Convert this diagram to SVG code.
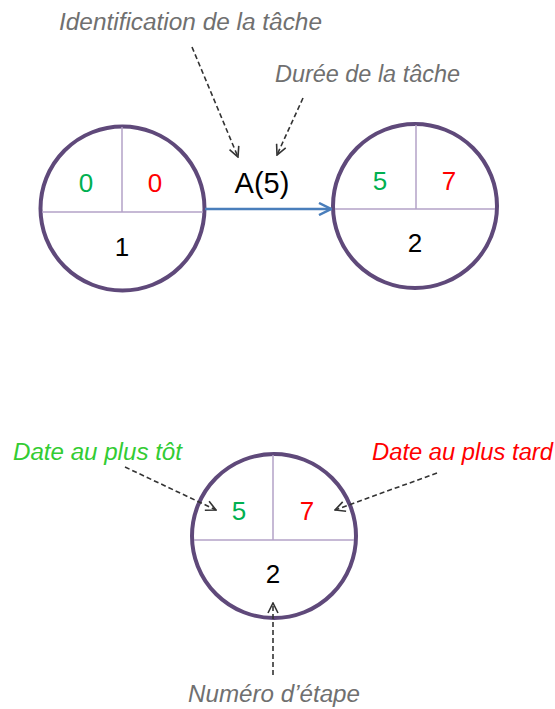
<svg xmlns="http://www.w3.org/2000/svg" width="555" height="709" viewBox="0 0 555 709">
<defs>
<style>
.ring{fill:none;stroke:#5f497a;stroke-width:4}
.div{stroke:#b3a2c7;stroke-width:1.5;fill:none}
.num{font-family:"Liberation Sans",Arial,sans-serif;font-size:26px;text-anchor:middle}
.g{fill:#00b050}
.r{fill:#ff0000}
.k{fill:#000000}
.lbl{font-family:"Liberation Sans",Arial,sans-serif;font-style:italic;font-size:23px}
.gray{fill:#707070}
.dash{stroke:#333333;stroke-width:1.6;stroke-dasharray:5 3;fill:none}
.blue{stroke:#4a7ebb;stroke-width:2.5;fill:none}
</style>
<marker id="openK" viewBox="0 0 12 12" refX="11" refY="6" markerWidth="12" markerHeight="12" markerUnits="userSpaceOnUse" orient="auto">
<path d="M1,1 L11,6 L1,11" fill="none" stroke="#333333" stroke-width="1.6"/>
</marker>
<marker id="openB" viewBox="0 0 14 14" refX="13" refY="7" markerWidth="14" markerHeight="14" markerUnits="userSpaceOnUse" orient="auto">
<path d="M1,1 L13,7 L1,13" fill="none" stroke="#4a7ebb" stroke-width="2.5"/>
</marker>
</defs>
<rect width="555" height="709" fill="#ffffff"/>

<g id="node1">
<circle class="ring" cx="122.5" cy="208.5" r="82"/>
<line class="div" x1="42" y1="212" x2="203" y2="212"/>
<line class="div" x1="122" y1="127" x2="122" y2="212"/>
<text class="num g" x="86" y="192">0</text>
<text class="num r" x="155" y="192">0</text>
<text class="num k" x="122" y="256">1</text>
</g>

<g id="task-label">
<text x="262" y="193" font-family="Liberation Sans, Arial, sans-serif" font-size="29" text-anchor="middle" fill="#000000">A(5)</text>
</g>

<g id="node2">
<circle class="ring" cx="415" cy="206" r="82"/>
<line class="div" x1="335" y1="209" x2="495" y2="209"/>
<line class="div" x1="416" y1="125" x2="416" y2="209"/>
<text class="num g" x="380" y="190">5</text>
<text class="num r" x="449" y="190">7</text>
<text class="num k" x="415" y="252">2</text>
</g>

<g id="node-legend">
<circle class="ring" cx="274" cy="536" r="82"/>
<line class="div" x1="194" y1="540" x2="354" y2="540"/>
<line class="div" x1="273" y1="455" x2="273" y2="540"/>
<text class="num g" x="239" y="520" font-size="27">5</text>
<text class="num r" x="307" y="520" font-size="27">7</text>
<text class="num k" x="273" y="583" font-size="27">2</text>
</g>

<g id="labels">
<text class="lbl gray" x="59" y="30" textLength="263" lengthAdjust="spacingAndGlyphs">Identification de la tâche</text>
<text class="lbl gray" x="275" y="82" textLength="185" lengthAdjust="spacingAndGlyphs">Durée de la tâche</text>
<text class="lbl" x="13" y="460" fill="#33cc33" textLength="169" lengthAdjust="spacingAndGlyphs">Date au plus tôt</text>
<text class="lbl r" x="372" y="460" textLength="181" lengthAdjust="spacingAndGlyphs">Date au plus tard</text>
<text class="lbl gray" x="188" y="702" textLength="172" lengthAdjust="spacingAndGlyphs">Numéro d’étape</text>
</g>

<g id="connectors">
<line class="blue" x1="205" y1="209" x2="331" y2="209" marker-end="url(#openB)"/>
<line class="dash" x1="192" y1="47" x2="238" y2="157" marker-end="url(#openK)"/>
<line class="dash" x1="303" y1="98" x2="277" y2="155" marker-end="url(#openK)"/>
<line class="dash" x1="125" y1="467" x2="216" y2="510" marker-end="url(#openK)"/>
<line class="dash" x1="437" y1="473" x2="335" y2="510" marker-end="url(#openK)"/>
<line class="dash" x1="273" y1="675" x2="273" y2="603" marker-end="url(#openK)"/>
</g>
</svg>
